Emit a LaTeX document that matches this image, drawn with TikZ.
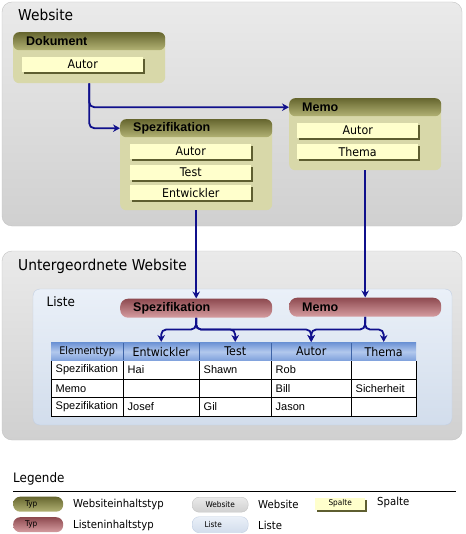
\documentclass[tikz,border=0pt]{standalone}
\usepackage{fontspec}
\setmainfont{Liberation Sans}
\newfontfamily\tah{DejaVu Sans}[FakeStretch=0.92]
\usetikzlibrary{arrows.meta,shadows}
\definecolor{arrowblue}{HTML}{10108C}
\definecolor{olivebody}{HTML}{D8D8A9}
\definecolor{olivetop}{HTML}{66662F}
\definecolor{olivebot}{HTML}{B2B274}
\definecolor{colfill}{HTML}{FFFFCC}
\definecolor{colshadow}{HTML}{5E5E30}
\definecolor{graytop}{HTML}{EAEAEA}
\definecolor{graybot}{HTML}{D0D0D0}
\definecolor{grayline}{HTML}{C4C4C4}
\definecolor{bluetop}{HTML}{EAF0F8}
\definecolor{bluebot}{HTML}{D2DDEC}
\definecolor{blueline}{HTML}{C2CFE2}
\definecolor{redtop}{HTML}{8E4A50}
\definecolor{redbot}{HTML}{D69DA1}
\definecolor{theadtop}{HTML}{6A91D4}
\definecolor{theadmid}{HTML}{B2C8ED}
\definecolor{theadbot}{HTML}{7B9EDB}
\definecolor{theadsep}{HTML}{3F64A6}
\tikzset{
  arr/.style={draw=arrowblue, line width=1.8pt, -{Stealth[length=7pt,width=7.5pt]}, rounded corners=5pt},
  outerbox/.style={draw=grayline, top color=graytop, bottom color=graybot, rounded corners=10pt},
  listbox/.style={draw=blueline, top color=bluetop, bottom color=bluebot, rounded corners=7pt},
  titletext/.style={font=\tah\fontsize{15}{15}\selectfont, anchor=base west, inner sep=0pt},
  cont/.style={fill=olivebody, rounded corners=6pt, anchor=north west, minimum width=152pt, inner sep=0pt},
  hdr/.style={top color=olivetop, bottom color=olivebot, rounded corners=6pt, anchor=north west,
    minimum width=152pt, minimum height=18pt, text width=126pt, inner xsep=13pt, inner ysep=0pt,
    align=left, font=\bfseries\fontsize{12.5}{12.5}\selectfont},
  colbox/.style={fill=colfill, anchor=north west, minimum width=121pt, minimum height=15pt, inner sep=0pt,
    font=\tah\fontsize{12}{12}\selectfont,
    drop shadow={shadow xshift=2pt, shadow yshift=-2pt, fill=colshadow, opacity=1}},
  pill/.style={top color=redtop, bottom color=redbot, rounded corners=8pt, anchor=north west,
    minimum width=152pt, minimum height=19pt, text width=126pt, inner xsep=13pt, inner ysep=0pt,
    align=left, font=\bfseries\fontsize{12.5}{12.5}\selectfont},
  thead/.style={top color=theadtop, bottom color=theadbot, middle color=theadmid, anchor=north west,
    minimum height=19pt, inner sep=0pt, font=\tah\fontsize{12}{12}\selectfont},
  tcell/.style={anchor=west, inner sep=0pt, font=\fontsize{11}{11}\selectfont},
  legtext/.style={anchor=west, inner sep=0pt, font=\tah\fontsize{11}{11}\selectfont},
  smalltext/.style={font=\tah\fontsize{8}{8}\selectfont}
}
\begin{document}
\begin{tikzpicture}[x=1pt,y=-1pt]
\useasboundingbox[fill=white] (0,0) rectangle (465,534);

% ---------- Website ----------
\path[outerbox] (2,2) rectangle (462,226);
\node[titletext] (tweb) at (18,20.5) {Website};

% Dokument
\node[cont, minimum height=51pt] (d) at (13,32) {};
\node[hdr] (dh) at (13,32) {Dokument};
\node[colbox] (da) at (22,57) {Autor};

% Spezifikation
\node[cont, minimum height=91pt] (s) at (120,119) {};
\node[hdr] (sh) at (120,119) {Spezifikation};
\node[colbox] (sa) at (130,144) {Autor};
\node[colbox] (st) at (130,164.5) {Test};
\node[colbox] (se) at (130,185) {Entwickler};

% Memo
\node[cont, minimum height=72pt] (m) at (289,98) {};
\node[hdr] (mh) at (289,98) {Memo};
\node[colbox] (ma) at (297,123) {Autor};
\node[colbox] (mt) at (297,144) {Thema};

% ---------- Untergeordnete Website ----------
\path[outerbox] (2,251) rectangle (462,440);
\node[titletext] (tsub) at (18,270) {Untergeordnete Website};
\path[listbox] (33,289) rectangle (452,425);
\node[anchor=base west, inner sep=0pt, font=\tah\fontsize{13}{13}\selectfont] (tlist) at (46.5,306.5) {Liste};

\node[pill] (ls) at (120,298.5) {Spezifikation};
\node[pill] (lm) at (289,297.5) {Memo};

% table header
\node[thead, minimum width=72pt, font=\tah\fontsize{10.5}{10.5}\selectfont] (h1) at (51,342) {Elementtyp};
\node[thead, minimum width=76pt] (h2) at (123,342) {Entwickler};
\node[thead, minimum width=72pt] (h3) at (199,342) {Test};
\node[thead, minimum width=80pt] (h4) at (271,342) {Autor};
\node[thead, minimum width=65pt] (h5) at (351,342) {Thema};
\foreach \xx in {123,199,271,351}
  \draw[theadsep, line width=0.8pt] (\xx,343) -- (\xx,360);

% table body
\fill[white] (51,361) rectangle (416,416);
\draw[black, line width=0.9pt] (51,361) -- (51,416) -- (416,416) -- (416,361);
\draw[black, line width=1.6pt] (51,416.5) -- (416.5,416.5) -- (416.5,361);
\foreach \yy in {379,397.5}
  \draw[black, line width=0.9pt] (51,\yy) -- (416,\yy);
\foreach \xx in {123,199,271,351}
  \draw[black, line width=0.9pt] (\xx,361) -- (\xx,416);

\node[tcell] (c11) at (55.5,370) {Spezifikation};
\node[tcell] (c12) at (127.5,370) {Hai};
\node[tcell] (c13) at (203.5,370) {Shawn};
\node[tcell] (c14) at (275.5,370) {Rob};
\node[tcell] (c21) at (55.5,388.5) {Memo};
\node[tcell] (c24) at (275.5,388.5) {Bill};
\node[tcell] (c25) at (355.5,388.5) {Sicherheit};
\node[tcell] (c31) at (55.5,407) {Spezifikation};
\node[tcell] (c32) at (127.5,407) {Josef};
\node[tcell] (c33) at (203.5,407) {Gil};
\node[tcell] (c34) at (275.5,407) {Jason};

% ---------- connectors ----------
\draw[arr] (d.south) |- (mh.west);
\draw[arr] (d.south) |- (sh.west);
\draw[arr] (s.south) -- (ls.north);
\draw[arr] (m.south) -- (lm.north);

\draw[arr] (ls.south) -- (196,329.5) -| (h2.north);
\draw[arr] (ls.south) -- (196,329.5) -| (h3.north);
\draw[arr] (ls.south) -- (196,329.5) -| (h4.north);
\draw[arr] (lm.south) -- (365,329.5) -| (h4.north);
\draw[arr] (lm.south) -- (365,329.5) -| (h5.north);

% ---------- Legende ----------
\node[anchor=base west, inner sep=0pt, font=\tah\fontsize{13}{13}\selectfont] (tleg) at (13,482) {Legende};
\coordinate (l1) at (13,491);
\coordinate (l2) at (456,491);
\draw[black, line width=0.9pt] (l1) -- (l2);

\node[smalltext, top color=olivetop, bottom color=olivebot, rounded corners=7pt, minimum width=50pt, minimum height=15pt, inner sep=0pt, anchor=north west] (ko) at (13,496.5) {\hspace*{-14pt}Typ};
\node[legtext] (ko2) at (73,504.5) {Websiteinhaltstyp};
\node[smalltext, top color=redtop, bottom color=redbot, rounded corners=7pt, minimum width=50pt, minimum height=15pt, inner sep=0pt, anchor=north west] (kr) at (13,517) {\hspace*{-14pt}Typ};
\node[legtext] (kr2) at (73,525.5) {Listeninhaltstyp};

\node[smalltext, draw=grayline, top color=graytop, bottom color=graybot, rounded corners=7pt, minimum width=56pt, minimum height=15pt, inner sep=0pt, anchor=north west] (kg) at (192,497) {Website};
\node[legtext] (kg2) at (258,504.5) {Website};
\node[smalltext, draw=blueline, top color=bluetop, bottom color=bluebot, rounded corners=7pt, minimum width=56pt, minimum height=16pt, inner sep=0pt, anchor=north west] (kb) at (192,516.5) {\hspace*{-14pt}Liste};
\node[legtext] (kb2) at (258,525) {Liste};

\node[colbox, smalltext, minimum width=50pt, minimum height=12pt] (ky) at (315,497.5) {Spalte};
\node[legtext] (ky2) at (377,502) {Spalte};
\end{tikzpicture}
\end{document}
